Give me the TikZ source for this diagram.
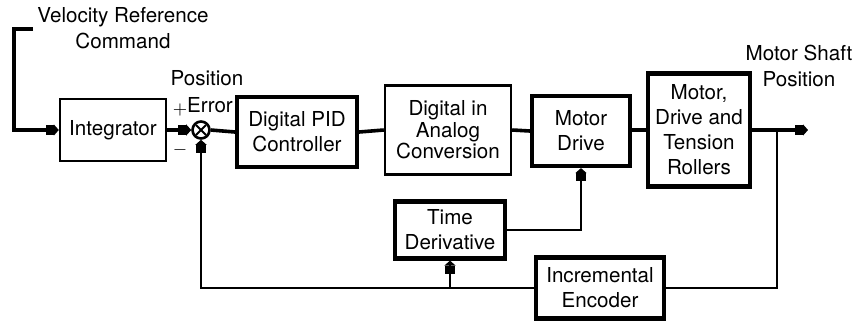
\documentclass[tikz,border=0pt]{standalone}
\usepackage{fontspec}
\setmainfont{TeX Gyre Heros}
\usetikzlibrary{arrows.meta}

\begin{document}
\begin{tikzpicture}[x=0.5pt, y=-0.5pt,
    blk/.style={draw, line width=1.2pt, align=center, inner sep=0pt,
      font=\fontsize{10.3}{12.5}\selectfont},
    heavy/.style={line width=2.1pt},
    lbl/.style={align=center, inner sep=0pt, font=\fontsize{10.3}{13}\selectfont},
    sig/.style={line width=1.8pt},
    fb/.style={line width=1.3pt},
    tip/.style={-{Square[length=4pt,width=5pt]Triangle[length=2.5pt,width=5.5pt]}}]
  \useasboundingbox (0,0) rectangle (857,322);

  % forward path
  \node[blk, minimum width=53pt, minimum height=31pt] (int) at (113,130) {Integrator};
  \node[circle, draw, line width=1.3pt, minimum size=8.5pt, inner sep=0pt,
    path picture={
      \draw[line width=1pt] ([shift={(-2.5pt,-2.5pt)}]path picture bounding box.center)
        -- ([shift={(2.5pt,2.5pt)}]path picture bounding box.center);
      \draw[line width=1pt] ([shift={(-2.5pt,2.5pt)}]path picture bounding box.center)
        -- ([shift={(2.5pt,-2.5pt)}]path picture bounding box.center);
    }] (sum) at (201,130) {};
  \node[blk, heavy, minimum width=60pt, minimum height=35pt] (pid) at (297,132) {Digital PID\\Controller};
  \node[blk, minimum width=63pt, minimum height=44.5pt,
    font=\fontsize{10.3}{10.8}\selectfont] (dac) at (448,130) {Digital in\\Analog\\Conversion};
  \node[blk, heavy, minimum width=49pt, minimum height=35pt] (drv) at (581,131) {Motor\\Drive};
  \node[blk, heavy, minimum width=51pt, minimum height=56.5pt] (mot) at (699,130) {Motor,\\Drive and\\Tension\\Rollers};

  % feedback blocks
  \node[blk, heavy, minimum width=55pt, minimum height=28.5pt] (der) at (450,230) {Time\\Derivative};
  \node[blk, heavy, minimum width=64pt, minimum height=30.5pt] (enc) at (600,288) {Incremental\\Encoder};

  % labels
  \node[lbl] (vref) at (123,28) {Velocity Reference\\Command};
  \node[lbl] (perr) at (207,78) {Position};
  \node[lbl] (err) at (210,105) {Error};
  \node[lbl, font=\small] (plus) at (180,110) {$+$};
  \node[lbl, font=\small] (minus) at (180,150) {$-$};
  \node[lbl] (msp) at (799,66) {Motor Shaft\\Position};

  \coordinate (vin) at (33,29);
  \coordinate (tap) at (777,130);
  \coordinate (out) at (808,130);

  % connectors
  \draw[sig, tip] (vin) -- ++(-19,0) |- (int.west);
  \draw[sig, tip] (int.east) -- (sum.west);
  \draw[sig] (sum.east) -- (pid.west);
  \draw[sig] (pid.east) -- (dac.west);
  \draw[sig] (dac.east) -- (drv.west);
  \draw[sig] (drv.east |- mot.west) -- (mot.west);
  \draw[sig, tip] (mot.east) -- (out);
  \draw[fb] (tap) |- (enc.east);
  \draw[fb, tip] (enc.west) -| (sum.south);
  \draw[fb, tip] (der.south |- enc.west) -- (der.south);
  \draw[fb, tip] (der.east) -| (drv.south);
\end{tikzpicture}
\end{document}
